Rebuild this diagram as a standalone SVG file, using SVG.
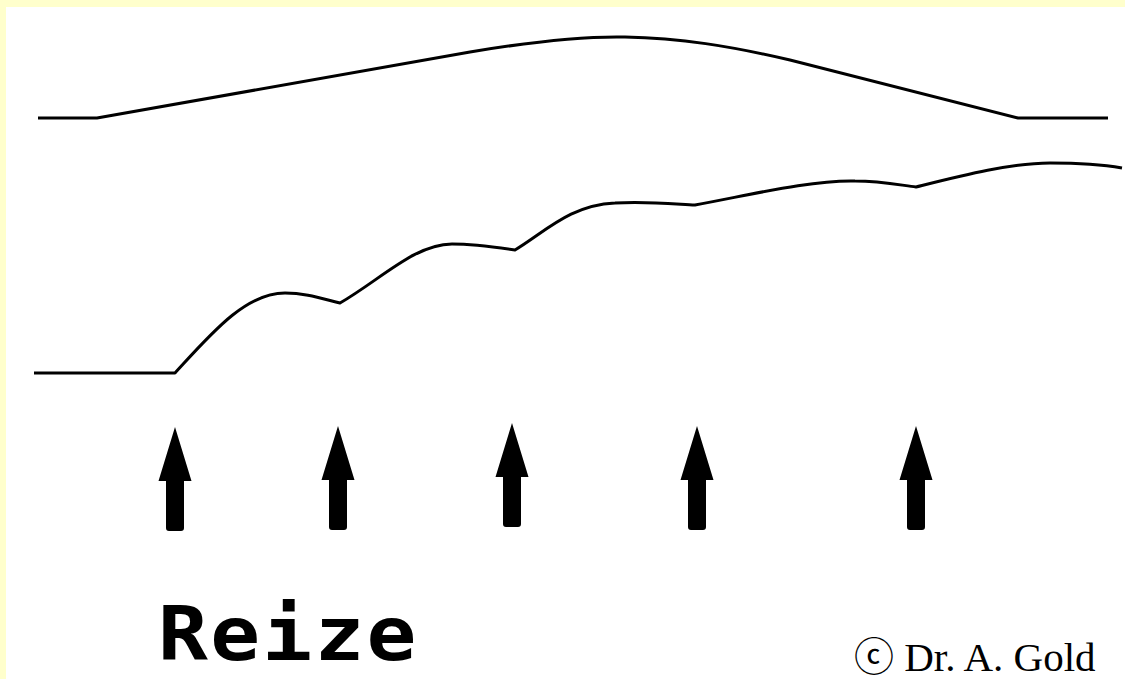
<svg xmlns="http://www.w3.org/2000/svg" xmlns:xlink="http://www.w3.org/1999/xlink" width="1125" height="679" viewBox="0 0 1125 679">
  <style>
    .curve { fill: none; stroke: #000; stroke-width: 3; stroke-linejoin: round; stroke-linecap: butt; }
    .arrow { fill: #000; }
    .label { font-family: "DejaVu Sans Mono", "Liberation Mono", monospace; font-weight: bold; font-size: 74px; letter-spacing: 2px; fill: #000; }
    .copy { font-family: "Liberation Serif", "Times New Roman", "DejaVu Sans", "Noto Sans CJK JP", serif; font-size: 41px; fill: #000; }
    .circ { font-family: "DejaVu Sans", "Noto Sans CJK JP", sans-serif; font-size: 40px; }
  </style>
  <defs>
    <path id="arrowShape" d="M0,0 L16.5,54 L9,54 L9,101 Q9,104 6,104 L-6,104 Q-9,104 -9,101 L-9,54 L-16.5,54 Z"/>
  </defs>
  <rect id="background" x="0" y="0" width="1125" height="679" fill="#ffffff"/>
  <g id="frame" fill="#ffffcc">
    <rect x="0" y="0" width="1125" height="7"/>
    <rect x="0" y="0" width="6" height="679"/>
  </g>
  <g id="curves">
    <path id="upper-curve" class="curve" d="M38,118 L97,118 L470,52 C530,42 580,36 625,37 C680,38 730,46 790,60 L1018,118 L1108,118"/>
    <path id="lower-curve" class="curve" d="M34,373 L175,373 C210,335 245,293 285,293 C305,293 320,298 340,303 C380,280 415,244 452,244 C475,244 495,247 515,250 C545,232 570,205 615,203 C645,201 675,204 695,205 C750,195 810,180 855,181 C880,181 900,185 916,187 C960,176 1010,163 1050,163 C1080,163 1105,165 1122,168"/>
  </g>
  <g id="arrows" class="arrow">
    <use xlink:href="#arrowShape" x="175" y="427"/>
    <use xlink:href="#arrowShape" x="338" y="426"/>
    <use xlink:href="#arrowShape" x="512" y="423"/>
    <use xlink:href="#arrowShape" x="697" y="426"/>
    <use xlink:href="#arrowShape" x="916" y="426"/>
  </g>
  <g id="label-reize">
    <text class="label" transform="translate(158,660) scale(1.12,1)">Reize</text>
  </g>
  <g id="copyright">
    <text class="copy" x="854" y="671"><tspan class="circ">ⓒ</tspan> Dr. A. Gold</text>
  </g>
</svg>
